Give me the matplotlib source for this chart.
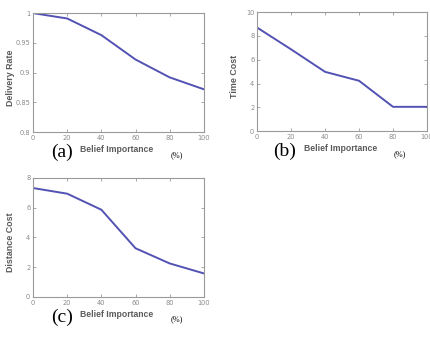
import matplotlib.pyplot as plt

# belief importance (%) on the x axis, shared by all three panels
belief = [0, 20, 40, 60, 80, 100]

# values
delivery_rate = [1.0, 0.991, 0.963, 0.922, 0.892, 0.872]
time_cost = [8.7, 6.87, 4.98, 4.23, 2.04, 2.04]
distance_cost = [7.32, 6.94, 5.86, 3.27, 2.25, 1.58]

line_col = '#5252b4'
frame_col = '#9a9a9a'
tick_col = '#8a8a8a'
label_col = '#5a5a5a'

fig = plt.figure(figsize=(4.3, 3.37), dpi=100)
fig.patch.set_facecolor('white')


def panel(rect, y, ylabel, ylim, yticks, yticklabels, tag, tag_x):
    ax = fig.add_axes(rect)
    ax.plot(belief, y, color=line_col, lw=1.4)
    ax.set_xlim(0, 100)
    ax.set_ylim(*ylim)
    ax.set_xticks(belief)
    ax.set_xticklabels([str(v) for v in belief])
    ax.set_yticks(yticks)
    ax.set_yticklabels(yticklabels)
    ax.tick_params(direction='in', length=2.5, width=0.6, colors=frame_col,
                   labelsize=4.8, labelcolor=tick_col, pad=2,
                   top=True, right=True)
    for s in ax.spines.values():
        s.set_color(frame_col)
        s.set_linewidth(0.8)
    ax.set_ylabel(ylabel, fontsize=6.4, fontweight='bold', color=label_col,
                  family='Liberation Sans', va='center')
    ax.yaxis.set_label_coords(-0.135, 0.46)
    ax.set_xlabel('Belief Importance', fontsize=6.2, fontweight='bold',
                  color=label_col, family='Liberation Sans', va='center')
    ax.xaxis.set_label_coords(0.49, -0.15)
    # the "(a)" style tag and the "(%)" unit, in a serif face
    ax.text(tag_x, -0.17, tag, transform=ax.transAxes, fontsize=14,
            family='Liberation Serif', ha='center', va='center')
    ax.text(0.84, -0.19, '(%)', transform=ax.transAxes, fontsize=6,
            family='Liberation Serif', ha='center', va='center')
    return ax


panel([0.077, 0.608, 0.397, 0.353], delivery_rate, 'Delivery Rate',
      (0.8, 1.0), [0.8, 0.85, 0.9, 0.95, 1.0],
      ['0.8', '0.85', '0.9', '0.95', '1'], '(a)', 0.17)
panel([0.598, 0.611, 0.395, 0.353], time_cost, 'Time Cost',
      (0, 10), [0, 2, 4, 6, 8, 10],
      ['0', '2', '4', '6', '8', '10'], '(b)', 0.16)
panel([0.077, 0.119, 0.397, 0.353], distance_cost, 'Distance Cost',
      (0, 8), [0, 2, 4, 6, 8],
      ['0', '2', '4', '6', '8'], '(c)', 0.17)

fig.savefig('out.png', dpi=100, facecolor='white')
